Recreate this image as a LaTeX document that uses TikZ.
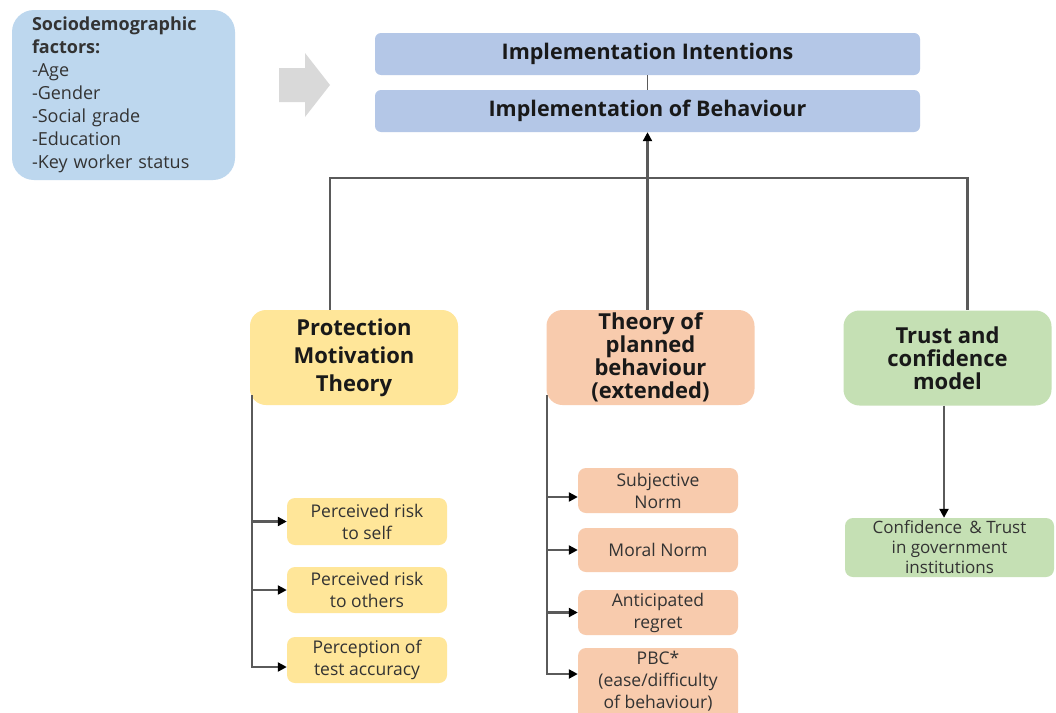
\documentclass[tikz,border=0pt]{standalone}
\usepackage{fontspec}
\setmainfont{Open Sans}
\usetikzlibrary{arrows.meta}

\definecolor{socioblue}{HTML}{BDD7EE}
\definecolor{implblue}{HTML}{B4C7E7}
\definecolor{pmtyellow}{HTML}{FFE699}
\definecolor{tpbpeach}{HTML}{F8CBAD}
\definecolor{trustgreen}{HTML}{C5E0B4}
\definecolor{arrowgray}{HTML}{D9D9D9}
\definecolor{linegray}{HTML}{5A5A5A}
\definecolor{subtext}{HTML}{333333}

\tikzset{
  sociobox/.style={fill=socioblue, rounded corners=22pt, minimum width=223pt,
    minimum height=170pt, text width=183pt, inner xsep=20pt, inner ysep=0pt,
    align=left, text=subtext, font=\fontsize{18}{23}\selectfont},
  implbox/.style={fill=implblue, rounded corners=6pt, minimum width=545pt,
    minimum height=42pt, inner sep=0pt, text=black!90,
    font=\fontsize{21.5}{24}\selectfont\bfseries},
  headbox/.style={rounded corners=16pt, minimum width=208pt, minimum height=95pt,
    inner sep=0pt, align=center, text=black!90,
    font=\fontsize{22}{23}\selectfont\bfseries},
  subbox/.style={rounded corners=8pt, minimum width=160pt, inner sep=0pt,
    align=center, text=subtext, font=\fontsize{17.5}{22}\selectfont},
  confbox/.style={rounded corners=8pt, minimum width=209pt, minimum height=59pt,
    inner sep=0pt, align=center, text=subtext, fill=trustgreen,
    font=\fontsize{17}{20}\selectfont},
  conn/.style={draw=linegray, line width=2.2pt},
  arr/.style={conn, -{Triangle[length=9pt,width=9pt,color=black,fill=black]}},
}

\begin{document}
\begin{tikzpicture}[x=1pt,y=-1pt]
\useasboundingbox[fill=white] (0,0) rectangle (1056,712);

% sociodemographic factors
\node[sociobox] (socio) at (123.5,95)
  {\textbf{Sociodemographic factors:}\\-Age\\-Gender\\-Social grade\\-Education\\-Key worker status};

% broad gray arrow
\fill[arrowgray] (279,68) -- (305,68) -- (305,53) -- (330,85) -- (305,117)
  -- (305,102) -- (279,102) -- cycle;

% outcome boxes
\node[implbox] (intent) at (647.5,54) {Implementation Intentions};
\node[implbox] (behav) at (647.5,111) {Implementation of Behaviour};
\draw[conn, line width=1.4pt] (intent.south) -- (behav.north);

% theory boxes
\node[headbox, fill=pmtyellow, font=\fontsize{22}{28}\selectfont\bfseries] (pmt) at (354,357.5)
  {Protection\\Motivation\\Theory};
\node[headbox, fill=tpbpeach] (tpb) at (650.5,357.5)
  {Theory of\\planned\\behaviour\\(extended)};
\node[headbox, fill=trustgreen] (trust) at (947.5,358)
  {Trust and\\confidence\\model};

% links from theories to behaviour
\coordinate (bar) at (0,178);
\draw[conn] ([xshift=-24pt]pmt.north) |- (behav.south |- bar) -| ([xshift=20pt]trust.north);
\draw[arr] (behav.south |- tpb.north) -- (behav.south);

% protection motivation constructs
\node[subbox, fill=pmtyellow, minimum height=47pt] (p1) at (367,521.5) {Perceived risk\\to self};
\node[subbox, fill=pmtyellow, minimum height=46pt] (p2) at (367,590) {Perceived risk\\to others};
\node[subbox, fill=pmtyellow, minimum height=46pt] (p3) at (367,660) {Perception of\\test accuracy};
\coordinate (ps) at ([xshift=2pt,yshift=10pt]pmt.south west);
\draw[arr] (ps |- p1.west) -- (p1.west);
\draw[arr] (ps |- p2.west) -- (p2.west);
\draw[arr] (ps) |- ([yshift=-7pt]p3.west);

% planned behaviour constructs
\node[subbox, fill=tpbpeach, minimum height=45pt] (t1) at (658,490.5) {Subjective\\Norm};
\node[subbox, fill=tpbpeach, minimum height=44pt] (t2) at (658,550) {Moral Norm};
\node[subbox, fill=tpbpeach, minimum height=45pt] (t3) at (658,612.5) {Anticipated\\regret};
\node[subbox, fill=tpbpeach, minimum height=72pt] (t4) at (658,684) {};
\node[subbox, anchor=north] (t4text) at ([yshift=-3pt]t4.north) {PBC*\\(ease/difficulty\\of behaviour)};
\coordinate (ts) at ([xshift=1pt,yshift=10pt]tpb.south west);
\draw[arr] (ts |- t1.west) ++(0,6.5) -- ([yshift=-6.5pt]t1.west);
\draw[arr] (ts |- t2.west) -- (t2.west);
\draw[arr] (ts |- t3.west) -- (t3.west);
\draw[arr] (ts) |- ([yshift=10pt]t4.west);

% trust construct
\node[confbox] (conf) at (949.5,547.5) {Confidence \,\&\ Trust\\in government\\institutions};
\draw[arr] ([xshift=-3.5pt]trust.south) -- ([xshift=-3.5pt]trust.south |- conf.north);
\end{tikzpicture}
\end{document}
